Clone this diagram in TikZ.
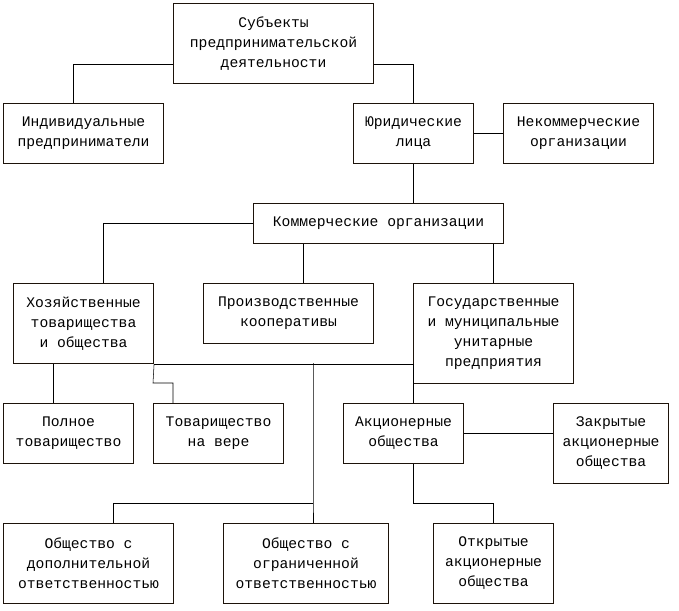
\documentclass[tikz,border=0pt]{standalone}
\usepackage{fontspec}
\setmonofont{Liberation Mono}
\usetikzlibrary{calc}
\tikzset{box/.style={draw=black!85!brown, thick, anchor=north west, align=center, inner sep=0pt,
  font=\ttfamily\fontsize{11}{15}\selectfont}}

\begin{document}
\begin{tikzpicture}[x=0.75pt,y=-0.75pt]
    \useasboundingbox (0,0) rectangle (679,611);
    \node[box, minimum width=0.75*200, minimum height=0.75*80] (root) at (173,3) {Субъекты\\предпринимательской\\деятельности};
    \node[box, minimum width=0.75*160, minimum height=0.75*60] (ind) at (3,103) {Индивидуальные\\предприниматели};
    \node[box, minimum width=0.75*120, minimum height=0.75*60] (jur) at (353,103) {Юридические\\лица};
    \node[box, minimum width=0.75*150, minimum height=0.75*60] (nonc) at (503,103) {Некоммерческие\\организации};
    \node[box, minimum width=0.75*250, minimum height=0.75*40] (comm) at (253,203) {Коммерческие организации};
    \node[box, minimum width=0.75*140, minimum height=0.75*80] (hoz) at (13,283) {Хозяйственные\\товарищества\\и общества};
    \node[box, minimum width=0.75*170, minimum height=0.75*60] (proiz) at (203,283) {Производственные\\кооперативы};
    \node[box, minimum width=0.75*160, minimum height=0.75*100] (gos) at (413,283) {Государственные\\и муниципальные\\унитарные\\предприятия};
    \node[box, minimum width=0.75*130, minimum height=0.75*60] (poln) at (3,403) {Полное\\товарищество};
    \node[box, minimum width=0.75*130, minimum height=0.75*60] (tov) at (153,403) {Товарищество\\на вере};
    \node[box, minimum width=0.75*120, minimum height=0.75*60] (akc) at (343,403) {Акционерные\\общества};
    \node[box, minimum width=0.75*115, minimum height=0.75*80] (zakr) at (553,403) {Закрытые\\акционерные\\общества};
    \node[box, minimum width=0.75*170, minimum height=0.75*80] (dop) at (3,523) {Общество с\\дополнительной\\ответственностью};
    \node[box, minimum width=0.75*165, minimum height=0.75*80] (ogr) at (223,523) {Общество с\\ограниченной\\ответственностью};
    \node[box, minimum width=0.75*120, minimum height=0.75*80] (otkr) at (433,523) {Открытые\\акционерные\\общества};

    \coordinate (hub) at (313,503);
    \draw ($(root.south west)+(0,-20)$) -| (ind.north -| 73,0);
    \draw ($(root.south east)+(0,-20)$) -| (jur.north -| 413,0);
    \draw (jur.east) -- (nonc.west);
    \draw (jur.south) -- (comm.north -| jur.south);
    \draw (comm.west) -| (hoz.north -| 103,0);
    \draw (comm.south -| 303,0) -- (proiz.north -| 303,0);
    \draw (comm.south -| 493,0) -- (gos.north -| 493,0);
    \draw (hoz.south -| 53,0) -- (poln.north -| 53,0);
    \draw (hoz.south east) -- (153,383) -| (tov.north -| 173,0);
    \draw (hoz.south east) -| (akc.north -| 413,0);
    \draw (313,363) -- (hub) -- (ogr.north -| hub);
    \draw (hub) -| (dop.north -| 113,0);
    \draw (akc.east) -- (zakr.west |- akc.east);
    \draw (akc.south -| 413,0) -- (413,503) -| (otkr.north -| 493,0);
\end{tikzpicture}
\end{document}
